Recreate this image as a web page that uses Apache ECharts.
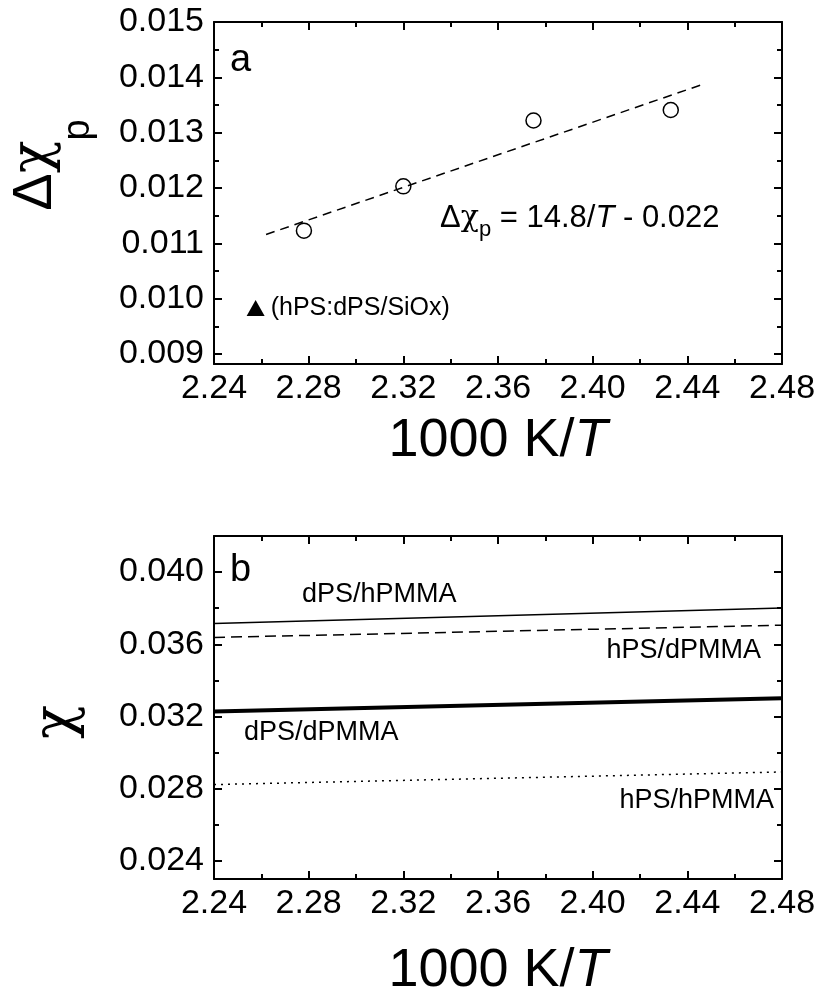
<!DOCTYPE html>
<html>
<head>
<meta charset="utf-8">
<script src="https://cdn.jsdelivr.net/npm/echarts@6/dist/echarts.min.js"></script>
<style>
  html, body { margin: 0; padding: 0; background: #fff; }
  #chart { width: 820px; height: 996px; }
</style>
</head>
<body>
<div id="chart"></div>
<script>
const FONT = '"Liberation Sans", Arial, Helvetica, sans-serif';
const GREEK = '"DejaVu Serif", serif';

// ---- Panel a: Δχp vs 1000 K/T ----
const invT_a = [2.278, 2.320, 2.375, 2.433];
const dChiP = [0.01123, 0.01203, 0.01322, 0.01341];
const fitInvT = [2.262, 2.447];
const fitDChiP = [0.01116, 0.01388];
const sioxInvT = [2.2576];
const sioxDChiP = [0.00983];
const sioxLabel = '(hPS:dPS/SiOx)';
const aYRange = [0.00882, 0.015];
const aYMajor = [0.009, 0.010, 0.011, 0.012, 0.013, 0.014, 0.015];
const aYMinor = [0.0095, 0.0105, 0.0115, 0.0125, 0.0135, 0.0145];

// ---- Panel b: χ vs 1000 K/T ----
const invT_b = [2.24, 2.48];
const chi_dPS_hPMMA = [0.03715, 0.03801];
const chi_hPS_dPMMA = [0.03638, 0.03706];
const chi_dPS_dPMMA = [0.03228, 0.03301];
const chi_hPS_hPMMA = [0.02823, 0.02893];
const bYRange = [0.023, 0.042];
const bYMajor = [0.024, 0.028, 0.032, 0.036, 0.040];
const bYMinor = [0.026, 0.030, 0.034, 0.038, 0.042];

// shared x axis
const xRange = [2.24, 2.48];
const xStep = 0.04;

const black = '#000';
const axisLineStyle = { color: black, width: 2 };

function xAxesFor(grid) {
  const common = {
    type: 'value', gridIndex: grid, min: xRange[0], max: xRange[1], interval: xStep,
    axisLine: { show: true, onZero: false, lineStyle: axisLineStyle },
    axisTick: { show: true, inside: true, length: 8, lineStyle: axisLineStyle },
    minorTick: { show: true, splitNumber: 2, length: 5, lineStyle: axisLineStyle },
    splitLine: { show: false }, minorSplitLine: { show: false }
  };
  return [
    Object.assign({}, common, {
      position: 'bottom',
      axisLabel: { show: true, color: black, fontSize: 34, fontFamily: FONT, margin: 8,
                   showMinLabel: true, showMaxLabel: true, formatter: v => v.toFixed(2) }
    }),
    Object.assign({}, common, { position: 'top', axisLabel: { show: false } })
  ];
}

function yAxesFor(grid, range, major, minor) {
  const base = {
    type: 'value', gridIndex: grid, min: range[0], max: range[1],
    splitLine: { show: false }
  };
  return [
    Object.assign({}, base, {
      position: 'left',
      axisLine: { show: true, onZero: false, lineStyle: axisLineStyle },
      axisTick: { show: true, inside: true, length: 8, customValues: major, lineStyle: axisLineStyle },
      axisLabel: { show: true, customValues: major, color: black, fontSize: 34, fontFamily: FONT,
                   margin: 10, formatter: v => v.toFixed(3) }
    }),
    Object.assign({}, base, {
      position: 'left',
      axisLine: { show: false },
      axisTick: { show: true, inside: true, length: 5, customValues: minor, lineStyle: axisLineStyle },
      axisLabel: { show: false }
    }),
    Object.assign({}, base, {
      position: 'right',
      axisLine: { show: true, onZero: false, lineStyle: axisLineStyle },
      axisTick: { show: true, inside: true, length: 8, customValues: major, lineStyle: axisLineStyle },
      axisLabel: { show: false }
    }),
    Object.assign({}, base, {
      position: 'right',
      axisLine: { show: false },
      axisTick: { show: true, inside: true, length: 5, customValues: minor, lineStyle: axisLineStyle },
      axisLabel: { show: false }
    })
  ];
}

const pairs = (xs, ys) => xs.map((x, i) => [x, ys[i]]);

function curve(yIdx, xIdx, xs, ys, width, type) {
  return {
    type: 'line', xAxisIndex: xIdx, yAxisIndex: yIdx, data: pairs(xs, ys),
    symbol: 'none', silent: true, clip: true,
    lineStyle: { color: black, width: width, type: type, opacity: 1 }
  };
}

const txt = (x, y, text, size, align) => ({
  type: 'text', x: x, y: y, z: 10,
  style: { text: text, fill: black, fontSize: size, fontFamily: FONT,
           align: align || 'left', verticalAlign: 'middle' }
});

const xTitle = (y) => ({
  type: 'text', x: 498, y: y, z: 10,
  style: {
    text: '{n|1000 K/}{i|T}', align: 'center', verticalAlign: 'middle', fill: black,
    rich: {
      n: { fontSize: 54, fontFamily: FONT },
      i: { fontSize: 54, fontFamily: FONT, fontStyle: 'italic' }
    }
  }
});

const option = {
  backgroundColor: '#fff',
  animation: false,
  grid: [
    { left: 214, top: 22, width: 568, height: 342 },
    { left: 214, top: 536, width: 568, height: 343 }
  ],
  xAxis: [].concat(xAxesFor(0), xAxesFor(1)),
  yAxis: [].concat(yAxesFor(0, aYRange, aYMajor, aYMinor), yAxesFor(1, bYRange, bYMajor, bYMinor)),
  series: [
    curve(0, 0, fitInvT, fitDChiP, 1.5, [9, 6]),
    {
      type: 'scatter', xAxisIndex: 0, yAxisIndex: 0, data: pairs(invT_a, dChiP),
      symbol: 'circle', symbolSize: 15, z: 3,
      itemStyle: { color: 'rgba(0,0,0,0)', borderColor: black, borderWidth: 1.5, opacity: 1 }
    },
    {
      type: 'scatter', xAxisIndex: 0, yAxisIndex: 0, data: pairs(sioxInvT, sioxDChiP),
      symbol: 'triangle', symbolSize: [18, 16], z: 3,
      itemStyle: { color: black, opacity: 1 },
      label: { show: true, position: 'right', distance: 6, formatter: sioxLabel,
               color: black, opacity: 1, fontSize: 25, fontFamily: FONT }
    },
    curve(4, 2, invT_b, chi_dPS_hPMMA, 1.5, 'solid'),
    curve(4, 2, invT_b, chi_hPS_dPMMA, 1.5, [11, 6]),
    curve(4, 2, invT_b, chi_dPS_dPMMA, 4, 'solid'),
    curve(4, 2, invT_b, chi_hPS_hPMMA, 1.5, [2, 5])
  ],
  graphic: [
    txt(230, 61, 'a', 38),
    txt(230, 571, 'b', 38),
    {
      type: 'text', x: 440, y: 222, z: 10,
      style: {
        text: '{m|Δ}{g|χ}{s|p}{m| = 14.8/}{i|T}{m| - 0.022}',
        align: 'left', verticalAlign: 'middle', fill: black,
        rich: {
          m: { fontSize: 31, fontFamily: FONT, lineHeight: 38, verticalAlign: 'top' },
          g: { fontSize: 30, fontFamily: GREEK, lineHeight: 38, verticalAlign: 'top' },
          i: { fontSize: 31, fontFamily: FONT, fontStyle: 'italic', lineHeight: 38, verticalAlign: 'top' },
          s: { fontSize: 22, fontFamily: FONT, lineHeight: 24, verticalAlign: 'bottom' }
        }
      }
    },
    txt(302, 595, 'dPS/hPMMA', 27),
    txt(761, 651, 'hPS/dPMMA', 27, 'right'),
    txt(244, 733, 'dPS/dPMMA', 27),
    txt(774, 801, 'hPS/hPMMA', 27, 'right'),
    // x-axis titles
    xTitle(441),
    xTitle(971),
    // y-axis titles
    {
      type: 'text', x: 53, y: 165, rotation: Math.PI / 2, z: 10,
      style: {
        text: '{m|Δ}{g|χ}{s|p}', align: 'center', verticalAlign: 'middle', fill: black,
        rich: {
          m: { fontSize: 56, fontFamily: FONT, lineHeight: 90, verticalAlign: 'top' },
          g: { fontSize: 54, fontFamily: GREEK, lineHeight: 90, verticalAlign: 'top' },
          s: { fontSize: 38, fontFamily: FONT, lineHeight: 38, verticalAlign: 'bottom' }
        }
      }
    },
    {
      type: 'text', x: 57, y: 722, rotation: Math.PI / 2, z: 10,
      style: { text: 'χ', fill: black, fontSize: 56, fontFamily: GREEK, align: 'center', verticalAlign: 'middle' }
    }
  ]
};

const chart = echarts.init(document.getElementById('chart'), null, { renderer: 'canvas' });
chart.setOption(option);
</script>
</body>
</html>
